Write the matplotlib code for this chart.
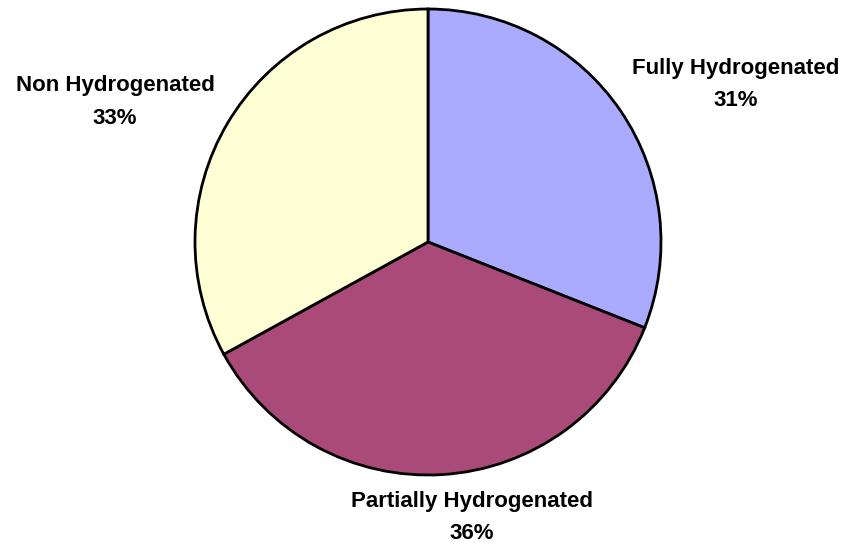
import matplotlib.pyplot as plt

labels = ['Fully Hydrogenated', 'Partially Hydrogenated', 'Non Hydrogenated']
shares = [31, 36, 33]
colors = ['#AAAAFF', '#AA4A78', '#FFFFD6']

# label centres in pixels (x, y from bottom)
label_pos = [(736, 461.5), (472, 28.5), (115, 444)]

plt.rcParams['font.family'] = ['Liberation Sans', 'DejaVu Sans']

fig = plt.figure(figsize=(8.46, 5.46), dpi=100)
ax = fig.add_axes([0, 0, 1, 1])
ax.pie(shares, colors=colors, startangle=90, counterclock=False,
       center=(428, 304), radius=233,
       wedgeprops=dict(edgecolor='black', linewidth=2.0))
ax.set_xlim(0, 846)
ax.set_ylim(0, 546)
ax.set_aspect('equal')
ax.axis('off')

for lab, val, (x, y) in zip(labels, shares, label_pos):
    ax.text(x, y, '%s\n%d%%' % (lab, val), ha='center', va='center',
            fontsize=16, fontweight='bold', linespacing=1.72)

fig.savefig('out.png', dpi=100)
